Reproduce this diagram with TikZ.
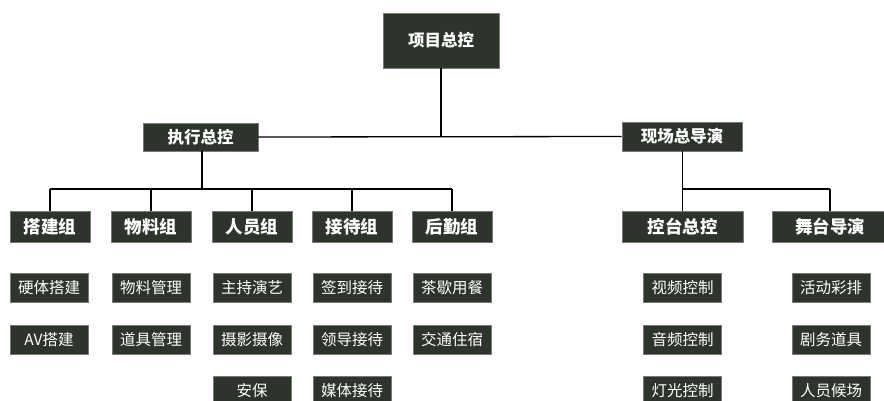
\documentclass[tikz,border=0pt]{standalone}
\usepackage{fontspec}
\newfontfamily\cjk{Noto Sans CJK SC}
\definecolor{boxfill}{RGB}{44,52,44}
\definecolor{boxedge}{RGB}{120,124,118}
\usetikzlibrary{positioning}
\tikzset{
  orgbox/.style={draw=boxedge,fill=boxfill,line width=0.8pt,inner sep=0pt,
    text=white,font=\cjk\bfseries\fontsize{16.5}{16.5}\selectfont},
  groupbox/.style={orgbox,minimum width=80pt,minimum height=31pt,
    font=\cjk\bfseries\fontsize{17.5}{17.5}\selectfont},
  leafbox/.style={orgbox,minimum width=78pt,minimum height=29pt,
    font=\cjk\fontsize{15.5}{15.5}\selectfont},
  link/.style={line width=1.3pt,black}
}
\begin{document}
\begin{tikzpicture}[x=1pt,y=1pt]
  \useasboundingbox[fill=white] (0,0) rectangle (884,400);
  % top level
  \node[orgbox,minimum width=116pt,minimum height=55pt] (top) at (441,359.5) {项目总控};
  \node[orgbox,minimum width=115pt,minimum height=28pt] (exec) at (200.5,263) {执行总控};
  \node[orgbox,minimum width=120pt,minimum height=29pt] (site) at (682,263.5) {现场总导演};
  \draw[link] (exec.east) -- (site.west);
  \draw[link] (top.south) -- (top.south |- exec.east);
  % groups under exec
  \foreach \name/\x/\txt in {g1/50/搭建组,g2/151/物料组,g3/252/人员组,g4/352/接待组,g5/452/后勤组}
    \node[groupbox] (\name) at (\x,173.5) {\txt};
  \coordinate (ebus) at (202,211);
  \draw[link] (exec.south -| ebus) -- (ebus);
  \draw[link] (g1.north |- ebus) -- (g5.north |- ebus);
  \foreach \name in {g1,g2,g3,g4,g5}
    \draw[link] (\name.north |- ebus) -- (\name.north);
  % groups under site
  \node[groupbox,minimum width=121pt] (g6) at (682.5,173.5) {控台总控};
  \node[groupbox,minimum width=116pt] (g7) at (830,173.5) {舞台导演};
  \coordinate (sbus) at (682.5,211);
  \draw[link] (site.south -| sbus) -- (sbus);
  \draw[link] (sbus) -- (g7.north |- sbus);
  \foreach \name in {g6,g7}
    \draw[link] (\name.north |- sbus) -- (\name.north);
  % leaves
  \foreach \x/\a/\b/\c [count=\i] in {49/硬体搭建/AV搭建/,151/物料管理/道具管理/,252/主持演艺/摄影摄像/安保,
      352/签到接待/领导接待/媒体接待,452/茶歇用餐/交通住宿/,682.5/视频控制/音频控制/灯光控制,
      831/活动彩排/剧务道具/人员候场}{
    \node[leafbox] (la\i) at (\x,112.5) {\a};
    \node[leafbox] (lb\i) at (\x,60.5) {\b};
    \if\relax\detokenize\expandafter{\c}\relax\else
      \node[leafbox] (lc\i) at (\x,9) {\c};
    \fi
  }
\end{tikzpicture}
\end{document}
